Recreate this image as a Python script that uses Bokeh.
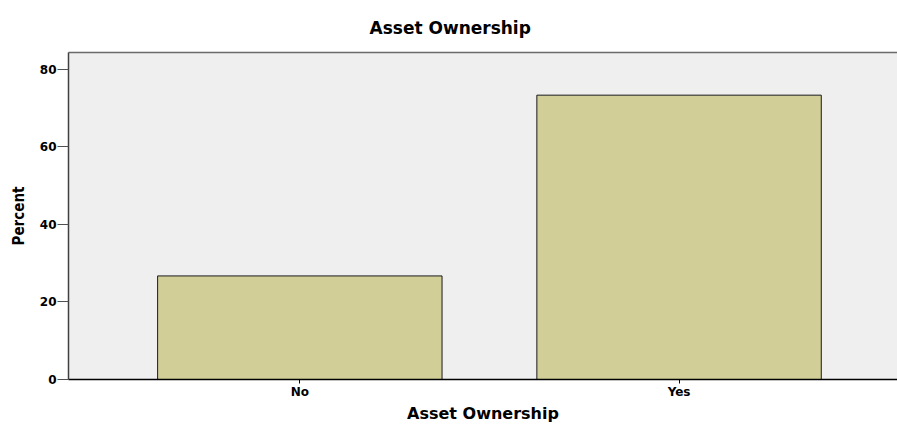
from bokeh.plotting import figure
from bokeh.models import Range1d, FixedTicker, LinearAxis
from bokeh.embed import file_html
from bokeh.resources import INLINE

categories = ["No", "Yes"]
percent = [26.7, 73.3]
y_ticks = [0, 20, 40, 60, 80]
title_text = "Asset Ownership"
x_label = "Asset Ownership"
y_label = "Percent"

xs = list(range(len(categories)))

p = figure(width=897, height=425, output_backend="svg", toolbar_location=None,
           x_range=Range1d(-0.610, 1.576), y_range=Range1d(0, 84.3),
           min_border_left=68, min_border_right=0, min_border_top=52, min_border_bottom=46)

p.vbar(x=xs, top=percent, width=0.75, fill_color="#d2ce98",
       line_color="#1a1a1a", line_width=1)

p.border_fill_color = "white"
p.background_fill_color = "#efefef"
p.outline_line_color = None
p.xgrid.visible = False
p.ygrid.visible = False

p.title.text = title_text
p.title.align = "left"
p.title.offset = 301
p.title.standoff = 30
p.title.text_font = "DejaVu Sans"
p.title.text_font_style = "bold"
p.title.text_font_size = "17px"
p.title.text_color = "black"

xa = p.below[0]
ya = p.left[0]

# top border line
top_axis = LinearAxis(ticker=FixedTicker(ticks=[]), major_tick_out=0, major_tick_in=0,
                      minor_tick_out=0, minor_tick_in=0, axis_line_color="#6a6a6a",
                      axis_line_width=1.5, major_label_standoff=0)
p.add_layout(top_axis, "above")

xa.ticker = FixedTicker(ticks=xs)
xa.major_label_overrides = {i: c for i, c in zip(xs, categories)}
xa.axis_label = x_label
xa.axis_label_text_font = "DejaVu Sans"
xa.axis_label_text_font_style = "bold"
xa.axis_label_text_font_size = "16px"
xa.axis_label_text_color = "black"
xa.axis_label_standoff = 2
xa.major_label_text_font = "DejaVu Sans"
xa.major_label_text_font_style = "bold"
xa.major_label_text_font_size = "12px"
xa.major_label_text_color = "black"
xa.major_label_standoff = 1
xa.major_tick_out = 4
xa.major_tick_in = 0
xa.minor_tick_out = 0
xa.minor_tick_in = 0
xa.axis_line_color = "black"
xa.axis_line_width = 1.5
xa.major_tick_line_color = "black"

ya.ticker = FixedTicker(ticks=y_ticks)
ya.axis_label = y_label
ya.axis_label_text_font = "DejaVu Sans Condensed"
ya.axis_label_text_font_style = "bold"
ya.axis_label_text_font_size = "15px"
ya.axis_label_text_color = "black"
ya.axis_label_standoff = 9
ya.major_label_text_font = "DejaVu Sans"
ya.major_label_text_font_style = "bold"
ya.major_label_text_font_size = "12px"
ya.major_label_text_color = "black"
ya.major_label_standoff = 1
ya.major_tick_out = 11
ya.major_tick_in = 0
ya.minor_tick_out = 0
ya.minor_tick_in = 0
ya.axis_line_color = "#404040"
ya.axis_line_width = 1.5
ya.major_tick_line_color = "#505050"

open("out.html", "w").write(file_html(p, INLINE))
